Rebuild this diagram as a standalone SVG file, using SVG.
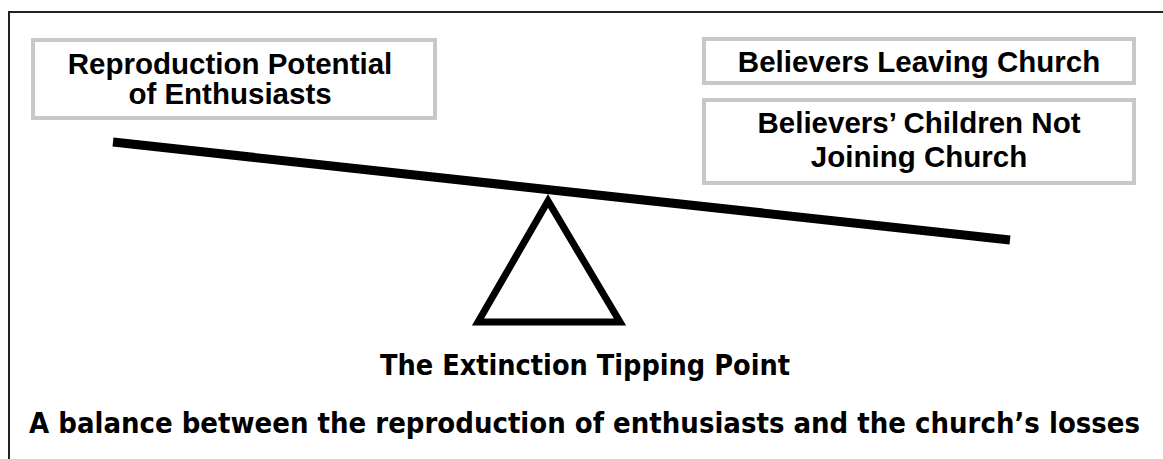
<svg xmlns="http://www.w3.org/2000/svg" width="1163" height="459" viewBox="0 0 1163 459">
<style>
.box{fill:#fff;stroke:#c8c8c8;stroke-width:4}
.lbl{font-family:"Liberation Sans",Arial,sans-serif;font-weight:bold;font-size:29.5px;fill:#000;text-anchor:middle}
.cap{font-family:"DejaVu Sans Condensed","DejaVu Sans",sans-serif;font-stretch:condensed;font-weight:bold;font-size:28px;fill:#000;text-anchor:middle}
</style>
<rect x="0" y="0" width="1163" height="459" fill="#fff"/>
<rect id="frame" x="9" y="12" width="1170" height="460" fill="none" stroke="#222" stroke-width="2"/>
<g id="node-reproduction">
<rect class="box" x="33" y="40" width="402" height="78"/>
<text class="lbl" x="230" y="74">Reproduction Potential</text>
<text class="lbl" x="230" y="104">of Enthusiasts</text>
</g>
<g id="node-leaving">
<rect class="box" x="704" y="39" width="430" height="44"/>
<text class="lbl" x="919" y="72">Believers Leaving Church</text>
</g>
<g id="node-children">
<rect class="box" x="704" y="100" width="430" height="83"/>
<text class="lbl" x="919" y="133">Believers’ Children Not</text>
<text class="lbl" x="919" y="167">Joining Church</text>
</g>
<g id="seesaw">
<line x1="113" y1="142" x2="1010" y2="240" stroke="#000" stroke-width="9"/>
<polygon points="548,201 478,322 620,322" fill="none" stroke="#000" stroke-width="7"/>
</g>
<g id="captions">
<text class="cap" x="585" y="375" textLength="410" lengthAdjust="spacingAndGlyphs">The Extinction Tipping Point</text>
<text class="cap" x="584.5" y="433" textLength="1111" lengthAdjust="spacingAndGlyphs">A balance between the reproduction of enthusiasts and the church’s losses</text>
</g>
</svg>
